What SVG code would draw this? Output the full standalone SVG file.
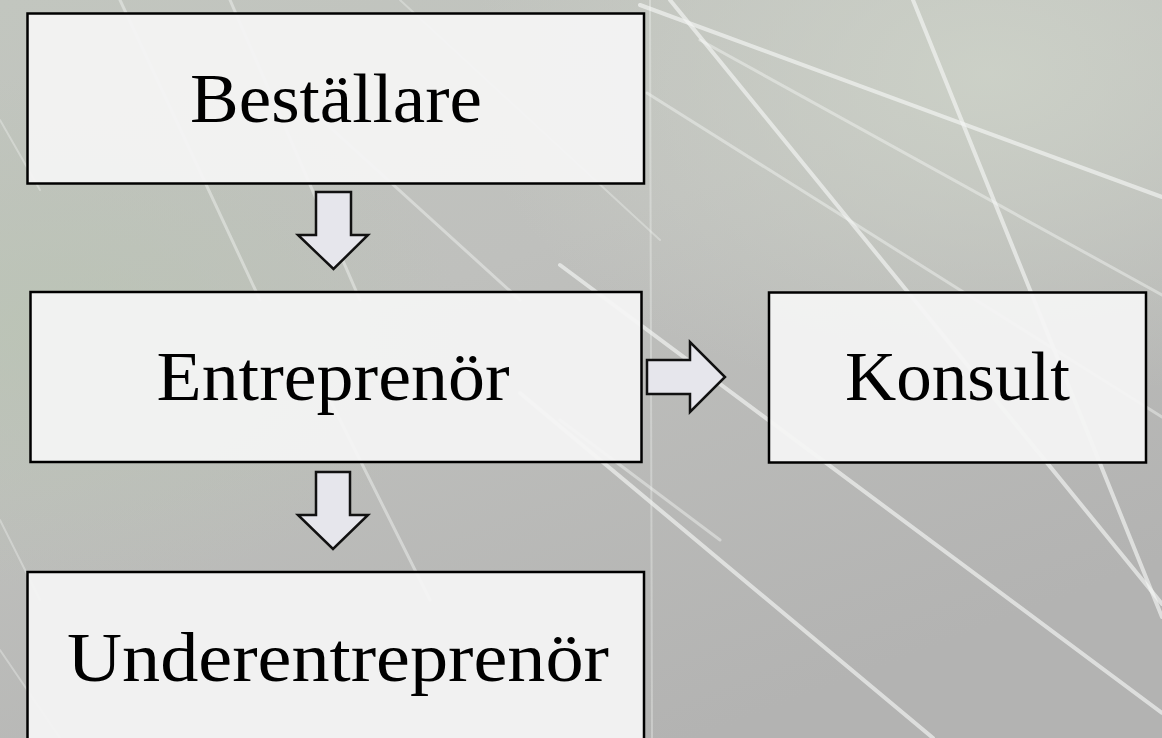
<svg xmlns="http://www.w3.org/2000/svg" width="1162" height="738" viewBox="0 0 1162 738">
  <defs>
    <linearGradient id="bg" x1="0" y1="0" x2="0.6" y2="1">
      <stop offset="0" stop-color="#c2c6bf"/>
      <stop offset="0.45" stop-color="#bfc0bd"/>
      <stop offset="1" stop-color="#b3b3b2"/>
    </linearGradient>
    <radialGradient id="greenTR" cx="0.85" cy="0.1" r="0.45">
      <stop offset="0" stop-color="#cdd2c8" stop-opacity="0.9"/>
      <stop offset="1" stop-color="#cdd2c8" stop-opacity="0"/>
    </radialGradient>
    <radialGradient id="greenL" cx="0.05" cy="0.45" r="0.35">
      <stop offset="0" stop-color="#bac4b4" stop-opacity="0.8"/>
      <stop offset="1" stop-color="#bac4b4" stop-opacity="0"/>
    </radialGradient>
    <style>
      .wire { stroke: #f4f6f4; stroke-linecap: round; fill: none; }
      .w1 { stroke-width: 4; stroke-opacity: 0.65; }
      .w2 { stroke-width: 3; stroke-opacity: 0.45; }
      .w3 { stroke-width: 2; stroke-opacity: 0.35; }
      .box { fill: #f4f4f4; fill-opacity: 0.94; stroke: #000; stroke-width: 2.5; }
      .label { font-family: "Liberation Serif", "Times New Roman", serif; font-size: 70px; fill: #000; text-anchor: middle; }
      .arrow { fill: #e6e6ec; stroke: #111; stroke-width: 2.5; stroke-linejoin: miter; }
    </style>
  </defs>

  <!-- background photo approximation -->
  <rect x="0" y="0" width="1162" height="738" fill="url(#bg)"/>
  <rect x="0" y="0" width="1162" height="738" fill="url(#greenTR)"/>
  <rect x="0" y="0" width="1162" height="738" fill="url(#greenL)"/>
  <g id="wires">
    <line class="wire w1" x1="640" y1="5" x2="1162" y2="197"/>
    <line class="wire w1" x1="670" y1="0" x2="1162" y2="604"/>
    <line class="wire w1" x1="913" y1="0" x2="1162" y2="617"/>
    <line class="wire w2" x1="647" y1="93" x2="1162" y2="417"/>
    <line class="wire w2" x1="700" y1="40" x2="1162" y2="295"/>
    <line class="wire w1" x1="520" y1="393" x2="933" y2="738"/>
    <line class="wire w1" x1="560" y1="265" x2="1162" y2="713"/>
    <line class="wire w3" x1="650" y1="0" x2="652" y2="738"/>
    <line class="wire w2" x1="120" y1="0" x2="260" y2="300"/>
    <line class="wire w2" x1="230" y1="0" x2="360" y2="300"/>
    <line class="wire w2" x1="300" y1="100" x2="520" y2="300"/>
    <line class="wire w3" x1="400" y1="0" x2="660" y2="240"/>
    <line class="wire w2" x1="330" y1="400" x2="430" y2="600"/>
    <line class="wire w2" x1="560" y1="420" x2="720" y2="540"/>
    <line class="wire w3" x1="0" y1="120" x2="40" y2="190"/>
    <line class="wire w3" x1="0" y1="520" x2="40" y2="600"/>
    <line class="wire w3" x1="0" y1="650" x2="60" y2="738"/>
  </g>

  <!-- nodes -->
  <g id="node-bestallare">
    <rect class="box" x="27.5" y="13.5" width="616.5" height="170"/>
    <text class="label" x="336" y="122" textLength="292" lengthAdjust="spacingAndGlyphs">Beställare</text>
  </g>
  <g id="node-entreprenor">
    <rect class="box" x="30.5" y="292" width="611" height="170"/>
    <text class="label" x="333" y="400" textLength="353" lengthAdjust="spacingAndGlyphs">Entreprenör</text>
  </g>
  <g id="node-konsult">
    <rect class="box" x="769" y="292.5" width="377" height="170"/>
    <text class="label" x="957.5" y="400" textLength="225" lengthAdjust="spacingAndGlyphs">Konsult</text>
  </g>
  <g id="node-underentreprenor">
    <rect class="box" x="27.5" y="572" width="616.5" height="175"/>
    <text class="label" x="338" y="681" textLength="542" lengthAdjust="spacingAndGlyphs">Underentreprenör</text>
  </g>

  <!-- connectors -->
  <g id="connectors">
    <polygon class="arrow" points="316,192 351,192 351,235 368,235 333.5,269 298,235 316,235"/>
    <polygon class="arrow" points="316,472 350,472 350,515 368,515 333,549 298,515 316,515"/>
    <polygon class="arrow" points="647,360 690,360 690,342 725,377 690,412 690,394 647,394"/>
  </g>
</svg>
